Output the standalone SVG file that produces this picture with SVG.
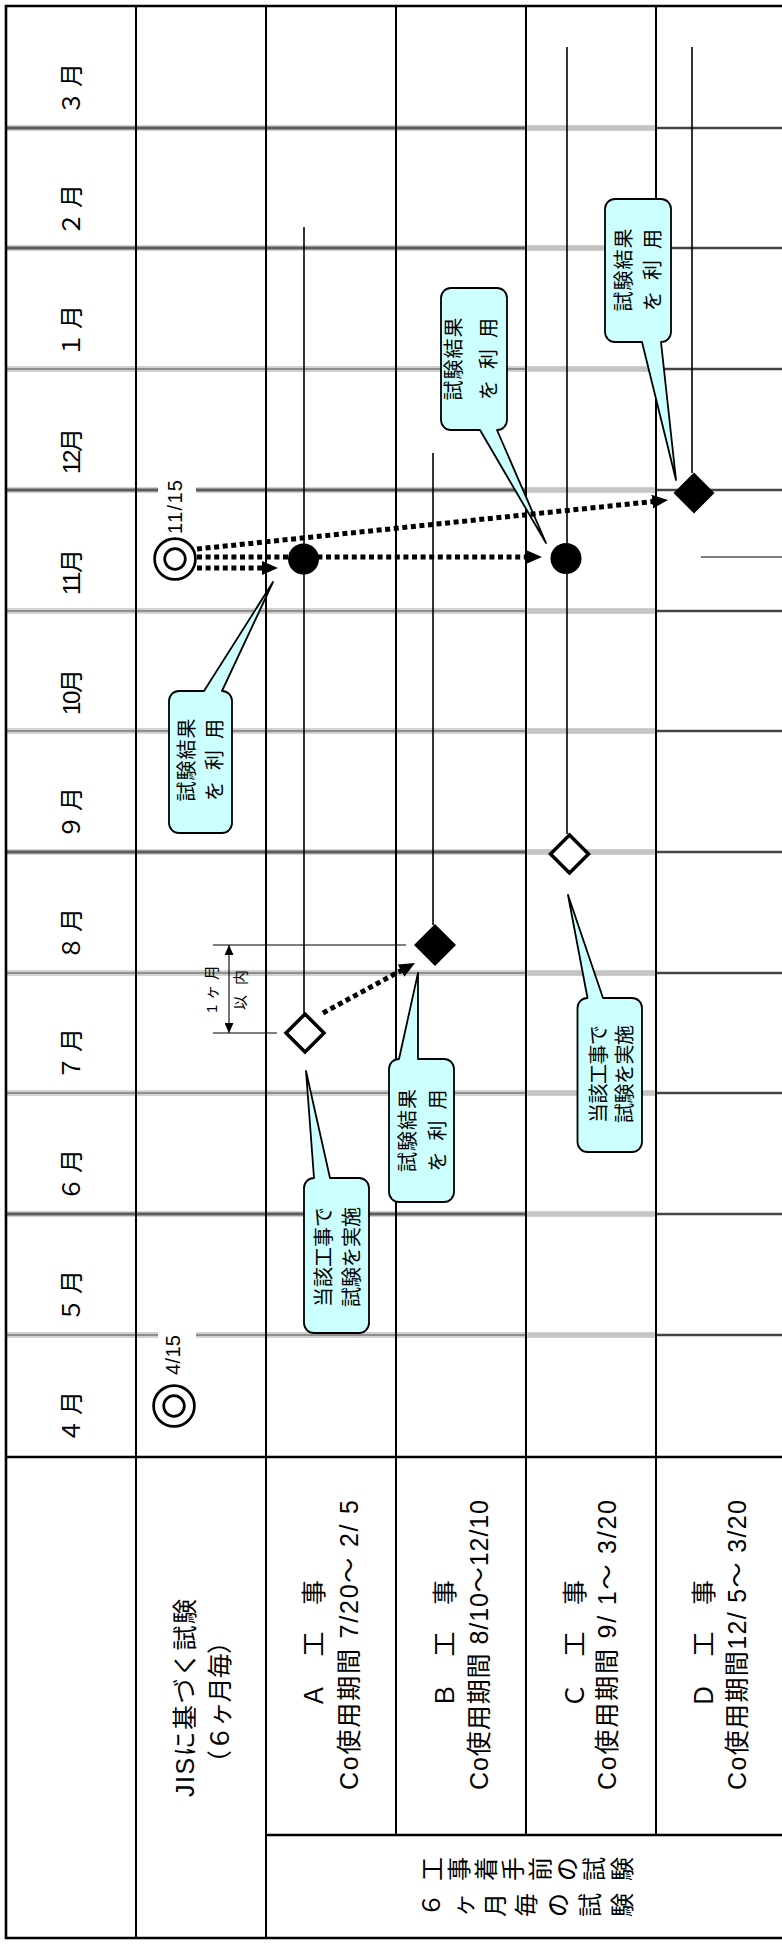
<svg xmlns="http://www.w3.org/2000/svg" width="782" height="1946" viewBox="0 0 782 1946" xml:space="preserve">
<defs>
<style>
text{font-family:"Liberation Sans","Noto Sans CJK JP",sans-serif;fill:#000;dominant-baseline:central;white-space:pre}
.m{font-size:24px}
.h{font-size:25px}
.c{font-size:20px}
.s{font-size:15px}
.d{font-size:20px}
.ch{font-size:24px;text-anchor:middle}
.grid{stroke:#000;stroke-width:2;fill:none}
.border{stroke:#000;stroke-width:2.6;fill:none}
.halo{stroke:#d2d2d2;stroke-width:6}
.sepD{stroke:#5c5c5c;stroke-width:3}
.sepL{stroke:#8e8e8e;stroke-width:2.2}
.sep5{stroke:#c4c4c4;stroke-width:4.5}
.sep6{stroke:#444;stroke-width:2.4}
.bar{stroke:#000;stroke-width:1.6;fill:none}
.thin{stroke:#000;stroke-width:1.1;fill:none}
.dot{stroke:#000;stroke-width:5;stroke-dasharray:5 3.6;fill:none}
.call{fill:#ccffff;stroke:#000;stroke-width:1.8;stroke-linejoin:round}
.ring{fill:#fff;stroke:#000;stroke-width:2.7}
.open{fill:#fff;stroke:#000;stroke-width:3.5}
</style>
<marker id="ah" markerUnits="userSpaceOnUse" markerWidth="17" markerHeight="15" viewBox="0 0 17 15" refX="4" refY="7" orient="auto"><path d="M0,0 L16,7 L0,14 z" fill="#000"/></marker>
<marker id="sa" markerUnits="userSpaceOnUse" markerWidth="11" markerHeight="9" viewBox="0 0 11 9" refX="10" refY="4.5" orient="auto-start-reverse"><path d="M0,0 L10,4.5 L0,9 z" fill="#000"/></marker>
</defs>
<rect x="0" y="0" width="782" height="1946" fill="#fff"/>

<g id="separators">
<g id="sep-thick">
<line class="halo" x1="6" y1="128" x2="656" y2="128"/><line class="sepD" x1="6" y1="128" x2="526" y2="128"/><line class="sep5" x1="528" y1="128" x2="654" y2="128"/><line class="sep6" x1="656" y1="128" x2="782" y2="128"/>
<line class="halo" x1="6" y1="248" x2="656" y2="248"/><line class="sepD" x1="6" y1="248" x2="526" y2="248"/><line class="sep5" x1="528" y1="248" x2="654" y2="248"/><line class="sep6" x1="656" y1="248" x2="782" y2="248"/>
<line class="halo" x1="6" y1="490" x2="656" y2="490"/><line class="sepD" x1="6" y1="490" x2="526" y2="490"/><line class="sep5" x1="528" y1="490" x2="654" y2="490"/><line class="sep6" x1="656" y1="490" x2="782" y2="490"/>
<line class="halo" x1="6" y1="852" x2="656" y2="852"/><line class="sepD" x1="6" y1="852" x2="526" y2="852"/><line class="sep5" x1="528" y1="852" x2="654" y2="852"/><line class="sep6" x1="656" y1="852" x2="782" y2="852"/>
<line class="halo" x1="6" y1="1214" x2="656" y2="1214"/><line class="sepD" x1="6" y1="1214" x2="526" y2="1214"/><line class="sep5" x1="528" y1="1214" x2="654" y2="1214"/><line class="sep6" x1="656" y1="1214" x2="782" y2="1214"/>
</g>
<g id="sep-thin">
<line class="halo" x1="6" y1="369" x2="656" y2="369"/><line class="sepL" x1="6" y1="369" x2="526" y2="369"/><line class="sep5" x1="528" y1="369" x2="654" y2="369"/><line class="sep6" x1="656" y1="369" x2="782" y2="369"/>
<line class="halo" x1="6" y1="611" x2="656" y2="611"/><line class="sepL" x1="6" y1="611" x2="526" y2="611"/><line class="sep5" x1="528" y1="611" x2="654" y2="611"/><line class="sep6" x1="656" y1="611" x2="782" y2="611"/>
<line class="halo" x1="6" y1="731" x2="656" y2="731"/><line class="sepL" x1="6" y1="731" x2="526" y2="731"/><line class="sep5" x1="528" y1="731" x2="654" y2="731"/><line class="sep6" x1="656" y1="731" x2="782" y2="731"/>
<line class="halo" x1="6" y1="973" x2="656" y2="973"/><line class="sepL" x1="6" y1="973" x2="526" y2="973"/><line class="sep5" x1="528" y1="973" x2="654" y2="973"/><line class="sep6" x1="656" y1="973" x2="782" y2="973"/>
<line class="halo" x1="6" y1="1093" x2="656" y2="1093"/><line class="sepL" x1="6" y1="1093" x2="526" y2="1093"/><line class="sep5" x1="528" y1="1093" x2="654" y2="1093"/><line class="sep6" x1="656" y1="1093" x2="782" y2="1093"/>
<line class="halo" x1="6" y1="1335" x2="656" y2="1335"/><line class="sepL" x1="6" y1="1335" x2="526" y2="1335"/><line class="sep5" x1="528" y1="1335" x2="654" y2="1335"/><line class="sep6" x1="656" y1="1335" x2="782" y2="1335"/>
</g>
</g>

<g id="grid">
<line class="grid" x1="136" y1="6" x2="136" y2="1938"/>
<line class="grid" x1="266" y1="6" x2="266" y2="1938"/>
<line class="grid" x1="396" y1="6" x2="396" y2="1835"/>
<line class="grid" x1="526" y1="6" x2="526" y2="1835"/>
<line class="grid" x1="656" y1="6" x2="656" y2="1835"/>
<line class="border" x1="6" y1="1457" x2="782" y2="1457"/>
<line class="border" x1="266" y1="1835" x2="782" y2="1835"/>
<path class="border" d="M782,6 L6,6 L6,1938 L782,1938"/>
</g>

<g id="date-gaps">
<rect x="158" y="484" width="38" height="12" fill="#fff"/>
<rect x="158" y="1329" width="38" height="12" fill="#fff"/>
</g>

<g id="months">
<text class="m" transform="translate(71 89) rotate(-90)" x="-26" textLength="52" lengthAdjust="spacing">３月</text>
<text class="m" transform="translate(71 210) rotate(-90)" x="-26" textLength="52" lengthAdjust="spacing">２月</text>
<text class="m" transform="translate(71 331) rotate(-90)" x="-26" textLength="52" lengthAdjust="spacing">１月</text>
<text class="m" transform="translate(71 451) rotate(-90)" x="-23" textLength="46" lengthAdjust="spacing">12月</text>
<text class="m" transform="translate(71 572) rotate(-90)" x="-23" textLength="46" lengthAdjust="spacing">11月</text>
<text class="m" transform="translate(71 692) rotate(-90)" x="-23" textLength="46" lengthAdjust="spacing">10月</text>
<text class="m" transform="translate(71 813) rotate(-90)" x="-26" textLength="52" lengthAdjust="spacing">９月</text>
<text class="m" transform="translate(71 934) rotate(-90)" x="-26" textLength="52" lengthAdjust="spacing">８月</text>
<text class="m" transform="translate(71 1054) rotate(-90)" x="-26" textLength="52" lengthAdjust="spacing">７月</text>
<text class="m" transform="translate(71 1175) rotate(-90)" x="-26" textLength="52" lengthAdjust="spacing">６月</text>
<text class="m" transform="translate(71 1296) rotate(-90)" x="-26" textLength="52" lengthAdjust="spacing">５月</text>
<text class="m" transform="translate(71 1417) rotate(-90)" x="-26" textLength="52" lengthAdjust="spacing">４月</text>
</g>

<g id="headers">
<g id="hdr-jis">
<text class="h" transform="translate(185 1698) rotate(-90)" x="-99" textLength="198" lengthAdjust="spacing">JISに基づく試験</text>
<text class="h" transform="translate(220 1702) rotate(-90)" x="-73" textLength="146" lengthAdjust="spacing">（６ヶ月毎）</text>
</g>
<g id="hdr-a">
<text class="h" transform="translate(314 1644) rotate(-90)" x="-64" textLength="128" lengthAdjust="spacing">Ａ　工　事</text>
<text class="h" transform="translate(348.5 1645) rotate(-90)" x="-145" textLength="290" lengthAdjust="spacing">Co使用期間 7/20〜 2/ 5</text>
</g>
<g id="hdr-b">
<text class="h" transform="translate(445 1644) rotate(-90)" x="-64" textLength="128" lengthAdjust="spacing">Ｂ　工　事</text>
<text class="h" transform="translate(478.5 1645) rotate(-90)" x="-145" textLength="290" lengthAdjust="spacing">Co使用期間 8/10〜12/10</text>
</g>
<g id="hdr-c">
<text class="h" transform="translate(575 1644) rotate(-90)" x="-64" textLength="128" lengthAdjust="spacing">Ｃ　工　事</text>
<text class="h" transform="translate(607 1645) rotate(-90)" x="-145" textLength="290" lengthAdjust="spacing">Co使用期間 9/ 1〜 3/20</text>
</g>
<g id="hdr-d">
<text class="h" transform="translate(704 1644) rotate(-90)" x="-64" textLength="128" lengthAdjust="spacing">Ｄ　工　事</text>
<text class="h" transform="translate(737 1645) rotate(-90)" x="-145" textLength="290" lengthAdjust="spacing">Co使用期間12/ 5〜 3/20</text>
</g>
<g id="hdr-bottom">
<text class="ch" transform="translate(432.5 1869) rotate(-90)">工</text>
<text class="ch" transform="translate(459.6 1869) rotate(-90)">事</text>
<text class="ch" transform="translate(486.6 1869) rotate(-90)">着</text>
<text class="ch" transform="translate(513.7 1869) rotate(-90)">手</text>
<text class="ch" transform="translate(540.8 1869) rotate(-90)">前</text>
<text class="ch" transform="translate(567.9 1869) rotate(-90)">の</text>
<text class="ch" transform="translate(594.9 1869) rotate(-90)">試</text>
<text class="ch" transform="translate(622 1869) rotate(-90)">験</text>
<text class="ch" transform="translate(431.5 1905) rotate(-90)">６</text>
<text class="ch" transform="translate(463.3 1905) rotate(-90)">ヶ</text>
<text class="ch" transform="translate(495 1905) rotate(-90)">月</text>
<text class="ch" transform="translate(526.8 1905) rotate(-90)">毎</text>
<text class="ch" transform="translate(558.5 1905) rotate(-90)">の</text>
<text class="ch" transform="translate(590.3 1905) rotate(-90)">試</text>
<text class="ch" transform="translate(622 1905) rotate(-90)">験</text>
</g>
</g>

<g id="bars">
<line class="bar" x1="304" y1="227" x2="304" y2="1013"/>
<line class="bar" x1="433" y1="453" x2="433" y2="925"/>
<line class="bar" x1="567" y1="47" x2="567" y2="834"/>
<line class="bar" x1="692" y1="47" x2="692" y2="473"/>
<line class="thin" x1="701" y1="557" x2="782" y2="557"/>
</g>

<g id="dimension">
<line class="thin" x1="213" y1="945" x2="406" y2="945"/>
<line class="thin" x1="213" y1="1033" x2="277" y2="1033"/>
<line class="thin" x1="229" y1="945" x2="229" y2="1033" marker-start="url(#sa)" marker-end="url(#sa)"/>
<text class="s" transform="translate(211 989) rotate(-90)" x="-24" textLength="48" lengthAdjust="spacing">1ヶ月</text>
<text class="s" transform="translate(240.5 990) rotate(-90)" x="-20" textLength="40" lengthAdjust="spacing">以内</text>
</g>

<g id="callouts">
<g id="callout-1">
<path class="call" d="M179,691 L204,691 L273,582 L222,691 A10,10 0 0 1 232,701 L232,823 A10,10 0 0 1 222,833 L179,833 A10,10 0 0 1 169,823 L169,701 A10,10 0 0 1 179,691 Z"/>
<text class="c" transform="translate(187 760) rotate(-90)" x="-41.5" textLength="83" lengthAdjust="spacing">試験結果</text>
<text class="c" transform="translate(215 760) rotate(-90)" x="-41" textLength="82" lengthAdjust="spacing">を 利 用</text>
</g>
<g id="callout-2">
<path class="call" d="M451,288 L497,288 A10,10 0 0 1 507,298 L507,420 A10,10 0 0 1 497,430 L546,543 L480,430 L451,430 A10,10 0 0 1 441,420 L441,298 A10,10 0 0 1 451,288 Z"/>
<text class="c" transform="translate(454 359) rotate(-90)" x="-41.5" textLength="83" lengthAdjust="spacing">試験結果</text>
<text class="c" transform="translate(488.5 359) rotate(-90)" x="-41" textLength="82" lengthAdjust="spacing">を 利 用</text>
</g>
<g id="callout-3">
<path class="call" d="M615,199 L661,199 A10,10 0 0 1 671,209 L671,332 A10,10 0 0 1 661,342 L676,480 L642,342 L615,342 A10,10 0 0 1 605,332 L605,209 A10,10 0 0 1 615,199 Z"/>
<text class="c" transform="translate(623.5 270) rotate(-90)" x="-41.5" textLength="83" lengthAdjust="spacing">試験結果</text>
<text class="c" transform="translate(653 270) rotate(-90)" x="-41" textLength="82" lengthAdjust="spacing">を 利 用</text>
</g>
<g id="callout-4">
<path class="call" d="M314,1178 L306,1071 L330,1178 L359,1178 A10,10 0 0 1 369,1188 L369,1323 A10,10 0 0 1 359,1333 L314,1333 A10,10 0 0 1 304,1323 L304,1188 A10,10 0 0 1 314,1178 Z"/>
<text class="c" transform="translate(324 1257) rotate(-90)" x="-50" textLength="100" lengthAdjust="spacing">当該工事で</text>
<text class="c" transform="translate(352 1257) rotate(-90)" x="-50" textLength="100" lengthAdjust="spacing">試験を実施</text>
</g>
<g id="callout-5">
<path class="call" d="M399,1059 L418,973 L418,1059 L444,1059 A10,10 0 0 1 454,1069 L454,1192 A10,10 0 0 1 444,1202 L399,1202 A10,10 0 0 1 389,1192 L389,1069 A10,10 0 0 1 399,1059 Z"/>
<text class="c" transform="translate(408 1130.5) rotate(-90)" x="-41.5" textLength="83" lengthAdjust="spacing">試験結果</text>
<text class="c" transform="translate(437.5 1130.5) rotate(-90)" x="-41" textLength="82" lengthAdjust="spacing">を 利 用</text>
</g>
<g id="callout-6">
<path class="call" d="M587.5,998 L568,895 L603,998 L632,998 A10,10 0 0 1 642,1008 L642,1142 A10,10 0 0 1 632,1152 L587.5,1152 A10,10 0 0 1 577.5,1142 L577.5,1008 A10,10 0 0 1 587.5,998 Z"/>
<text class="c" transform="translate(598.5 1074) rotate(-90)" x="-49" textLength="98" lengthAdjust="spacing">当該工事で</text>
<text class="c" transform="translate(625 1074) rotate(-90)" x="-49" textLength="98" lengthAdjust="spacing">試験を実施</text>
</g>
</g>

<g id="connectors">
<line class="dot" x1="197" y1="568" x2="266" y2="568" marker-end="url(#ah)"/>
<line class="dot" x1="197" y1="557" x2="530" y2="557" marker-end="url(#ah)"/>
<line class="dot" x1="197" y1="549" x2="656.1" y2="501.2" marker-end="url(#ah)"/>
<line class="dot" x1="323" y1="1013" x2="404.5" y2="968.7" marker-end="url(#ah)"/>
</g>

<g id="node-jis-1115">
<circle class="ring" cx="175" cy="559" r="20.4"/>
<circle class="ring" cx="175" cy="559" r="10.3"/>
<text class="d" transform="translate(175 507) rotate(-90)" x="-27" textLength="54" lengthAdjust="spacing">11/15</text>
</g>
<g id="node-jis-415">
<circle class="ring" cx="174" cy="1406" r="20.4"/>
<circle class="ring" cx="174" cy="1406" r="10.3"/>
<text class="d" transform="translate(173 1355) rotate(-90)" x="-20" textLength="40" lengthAdjust="spacing">4/15</text>
</g>
<g id="node-a-test">
<path class="open" d="M305,1014 L324,1033 L305,1052 L286,1033 Z"/>
</g>
<g id="node-a-use">
<circle cx="303.5" cy="559" r="15.5" fill="#000"/>
</g>
<g id="node-b-use">
<path d="M435,924 L456,945 L435,966 L414,945 Z" fill="#000"/>
</g>
<g id="node-c-test">
<path class="open" d="M569.5,835 L588.5,854 L569.5,873 L550.5,854 Z"/>
</g>
<g id="node-c-use">
<circle cx="566" cy="558.5" r="15.5" fill="#000"/>
</g>
<g id="node-d-use">
<path d="M694,472.5 L714.5,493 L694,513.5 L673.5,493 Z" fill="#000"/>
</g>
</svg>
